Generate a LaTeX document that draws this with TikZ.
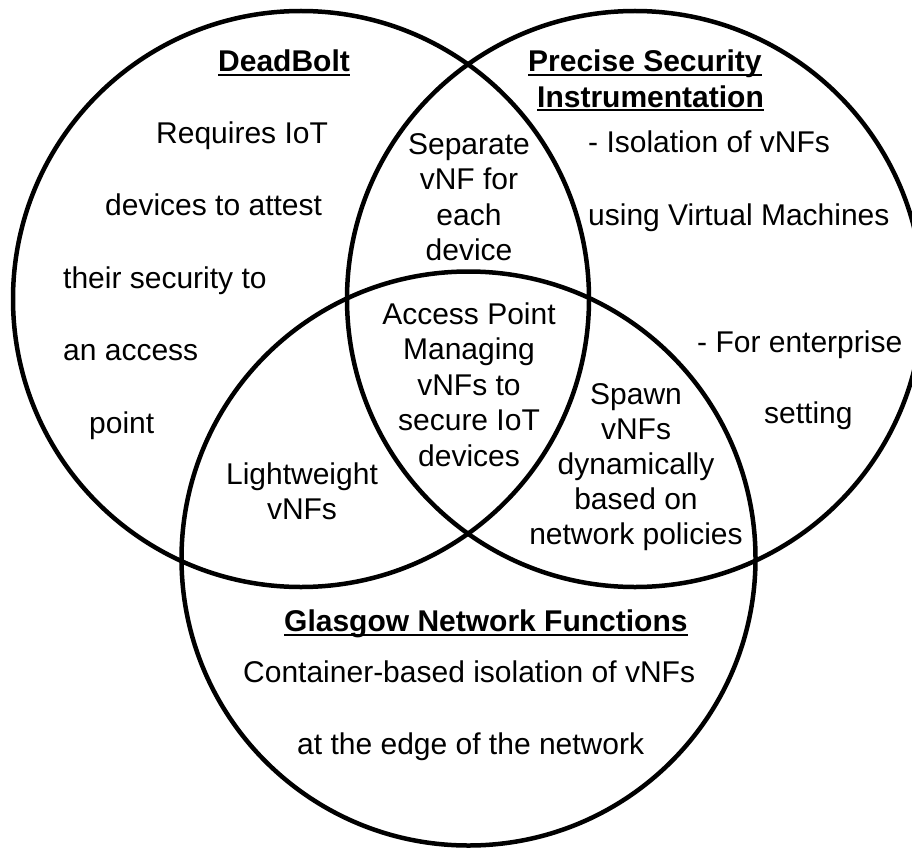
\documentclass[tikz,border=0pt]{standalone}
\usepackage{fontspec}
\setmainfont{Liberation Sans}
\begin{document}
\begin{tikzpicture}[x=1pt,y=-1pt,
  ring/.style={line width=4.5pt, draw=black},
  txt/.style={inner sep=0pt, font=\fontsize{30}{35}\selectfont},
  hd/.style={inner sep=0pt, font=\fontsize{30}{35}\selectfont\bfseries},
  ul/.style={line width=2pt}]
\useasboundingbox (0,0) rectangle (912,848);
% circles
\draw[ring] (301,299) circle[radius=288pt];
\draw[ring] (635,299) circle[radius=288pt];
\draw[ring] (468.5,558.5) circle[radius=287pt];
% headings
\node[hd, anchor=base west] (dead) at (218,72) {DeadBolt};
\node[hd, anchor=base west] (psi1) at (528,72) {Precise Security};
\node[hd, anchor=base west] (psi2) at (537,107) {Instrumentation};
\node[hd, anchor=base west] (gnf) at (284,631) {Glasgow Network Functions};
\foreach \n in {dead,psi1,psi2,gnf}
  \draw[ul] ([yshift=-3.5pt]\n.base west) -- ([yshift=-3.5pt]\n.base east);
% DeadBolt text
\node[txt, anchor=base west] (d1) at (156,143) {Requires IoT};
\node[txt, anchor=base west] (d2) at (105,215.5) {devices to attest};
\node[txt, anchor=base west] (d3) at (63,288) {their security to};
\node[txt, anchor=base west] (d4) at (63,360.5) {an access};
\node[txt, anchor=base west] (d5) at (89,433) {point};
% PSI text
\node[txt, anchor=base west] (p1) at (588,152) {- Isolation of vNFs};
\node[txt, anchor=base west] (p2) at (588,225) {using Virtual Machines};
\node[txt, anchor=base west] (p3) at (697,352) {- For enterprise};
\node[txt, anchor=base west] (p4) at (764,423) {setting};
% GNF text
\node[txt, anchor=base west] (g1) at (243,682) {Container-based isolation of vNFs};
\node[txt, anchor=base west] (g2) at (297,754) {at the edge of the network};
% top lens
\node[txt, anchor=base] (t1) at (469,154) {Separate};
\node[txt, anchor=base] (t2) at (469,189.5) {vNF for};
\node[txt, anchor=base] (t3) at (469,225) {each};
\node[txt, anchor=base] (t4) at (469,260) {device};
% centre
\node[txt, anchor=base] (c1) at (469,324) {Access Point};
\node[txt, anchor=base] (c2) at (469,359.5) {Managing};
\node[txt, anchor=base] (c3) at (469,395) {vNFs to};
\node[txt, anchor=base] (c4) at (469,430.5) {secure IoT};
\node[txt, anchor=base] (c5) at (469,466) {devices};
% right lens
\node[txt, anchor=base] (r1) at (636,404) {Spawn};
\node[txt, anchor=base] (r2) at (636,439) {vNFs};
\node[txt, anchor=base] (r3) at (636,474) {dynamically};
\node[txt, anchor=base] (r4) at (636,509) {based on};
\node[txt, anchor=base] (r5) at (636,544) {network policies};
% left lens
\node[txt, anchor=base] (l1) at (302,484) {Lightweight};
\node[txt, anchor=base] (l2) at (302,519) {vNFs};
\end{tikzpicture}
\end{document}
